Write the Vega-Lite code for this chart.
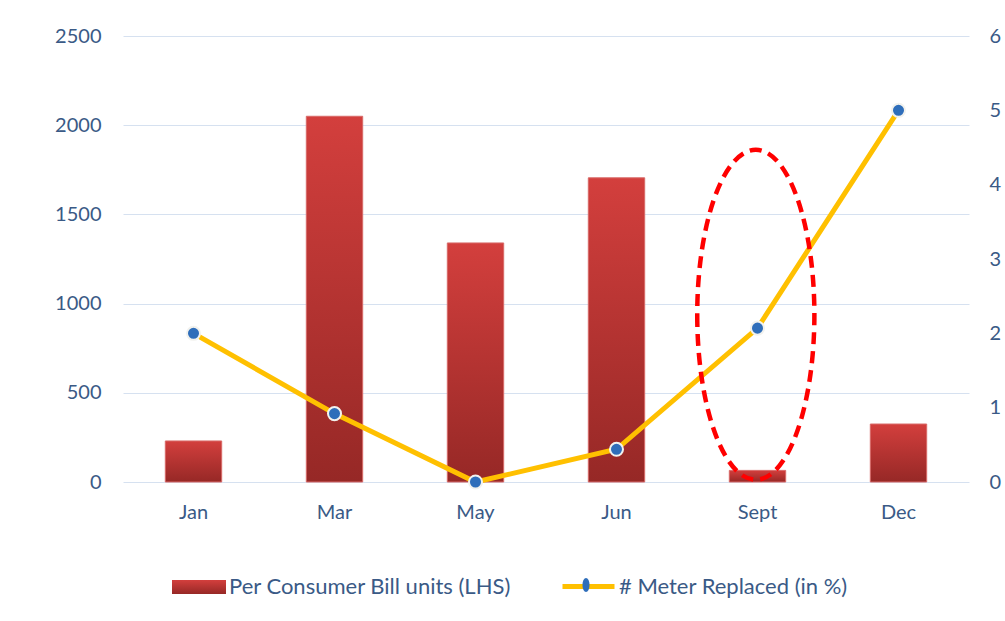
{
  "$schema": "https://vega.github.io/schema/vega-lite/v6.json",
  "width": 846,
  "height": 446,
  "autosize": "none",
  "padding": {"left": 123, "top": 36, "right": 36, "bottom": 139},
  "background": "white",
  "config": {
    "view": {"stroke": null},
    "font": "Lato",
    "axis": {"labelFont": "Lato", "labelFontSize": 20, "labelColor": "#3A5A86", "domain": false, "ticks": false, "title": null, "gridColor": "#D6E1F0", "gridWidth": 1},
    "legend": {"labelFont": "Lato", "labelFontSize": 22, "labelColor": "#3A5A86", "labelLimit": 500}
  },
  "data": {"values": [
    {"month": "Jan", "bill": 230, "meter": 2.0},
    {"month": "Mar", "bill": 2050, "meter": 0.92},
    {"month": "May", "bill": 1340, "meter": 0.0},
    {"month": "Jun", "bill": 1705, "meter": 0.44},
    {"month": "Sept", "bill": 65, "meter": 2.07},
    {"month": "Dec", "bill": 325, "meter": 5.0}
  ]},
  "encoding": {
    "x": {"field": "month", "type": "nominal", "sort": ["Jan", "Mar", "May", "Jun", "Sept", "Dec"],
      "scale": {"paddingInner": 0.6, "paddingOuter": 0.3},
      "axis": {"labelAngle": 0, "labelPadding": 20, "grid": false}}
  },
  "layer": [
    {
      "layer": [
        {
          "mark": {"type": "bar", "strokeWidth": 1,
            "fill": {"gradient": "linear", "x1": 0, "y1": 0, "x2": 0, "y2": 1,
              "stops": [{"offset": 0, "color": "#D33F3D"}, {"offset": 1, "color": "#962826"}]}},
          "encoding": {
            "y": {"field": "bill", "type": "quantitative", "scale": {"domain": [0, 2500]},
              "axis": {"values": [0, 500, 1000, 1500, 2000, 2500], "format": "d", "labelPadding": 22, "grid": true}},
            "stroke": {"datum": "Per Consumer Bill units (LHS)", "type": "nominal",
              "scale": {"domain": ["Per Consumer Bill units (LHS)"], "range": ["#D86A68"]},
              "legend": {
                "title": null, "orient": "none", "legendX": 49, "legendY": 524,
                "symbolSize": 2916, "labelOffset": 3, "padding": 0,
                "symbolType": "M -1 -0.26 L 1 -0.26 L 1 0.26 L -1 0.26 Z",
                "symbolStrokeWidth": 0,
                "symbolFillColor": "#B83432"
              }}
          }
        }
      ]
    },
    {
      "layer": [
        {
          "mark": {"type": "line", "strokeWidth": 5},
          "encoding": {
            "y": {"field": "meter", "type": "quantitative", "scale": {"domain": [0, 6]},
              "axis": {"orient": "right", "values": [0, 1, 2, 3, 4, 5, 6], "format": "d", "labelPadding": 20, "grid": false}},
            "color": {"datum": "# Meter Replaced (in %)", "type": "nominal",
              "scale": {"domain": ["# Meter Replaced (in %)"], "range": ["#FFC000"]},
              "legend": {
                "title": null, "orient": "none", "legendX": 437, "legendY": 522,
                "symbolSize": 2704, "labelOffset": 2, "padding": 0,
                "symbolType": "M -1 0 L 1 0",
                "symbolStrokeWidth": 5
              }}
          }
        },
        {
          "mark": {"type": "point", "shape": "circle", "filled": true, "stroke": "#F2F2EE", "strokeWidth": 2, "size": 170, "opacity": 1},
          "encoding": {
            "y": {"field": "meter", "type": "quantitative"},
            "fill": {"datum": " ", "type": "nominal",
              "scale": {"domain": [" "], "range": ["#2F6EBA"]},
              "legend": {
                "title": null, "orient": "none", "legendX": 456, "legendY": 542,
                "symbolSize": 196, "labelOffset": 0, "padding": 0,
                "symbolType": "M 0.5 0 A 0.5 1 0 1 1 -0.5 0 A 0.5 1 0 1 1 0.5 0 Z",
                "symbolStrokeWidth": 0, "symbolStrokeColor": "transparent",
                "labelExpr": "''", "labelFontSize": 1
              }}
          }
        },
        {
          "data": {"values": [{"month": "Sept", "meter": 2.25}]},
          "mark": {"type": "point", "filled": false, "stroke": "#FF0000", "strokeWidth": 4.5, "strokeDash": [12, 7], "opacity": 1, "size": 108900,
            "shape": "M -0.355 0 A 0.355 1 0 1 0 0.355 0 A 0.355 1 0 1 0 -0.355 0 Z"},
          "encoding": {"x": {"field": "month", "type": "nominal", "bandPosition": 0.47}, "y": {"field": "meter", "type": "quantitative"}}
        }
      ]
    }
  ],
  "resolve": {"scale": {"y": "independent"}}
}
